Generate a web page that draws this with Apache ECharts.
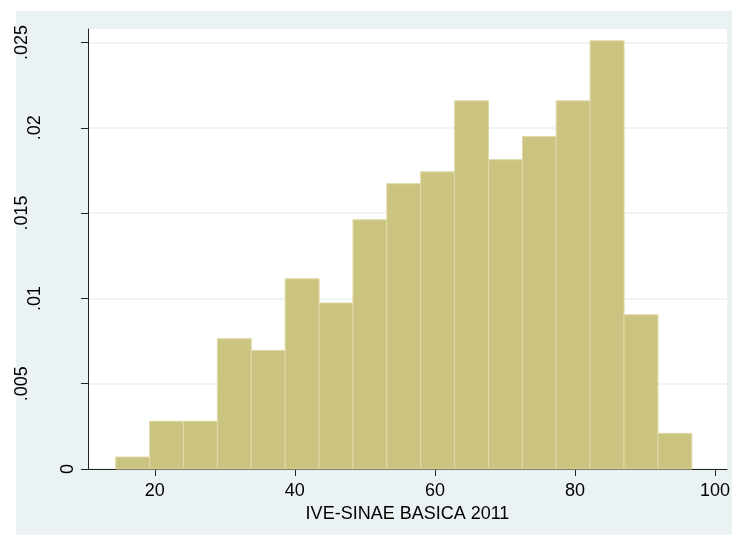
<!DOCTYPE html>
<html>
<head>
<meta charset="utf-8">
<script src="https://cdn.jsdelivr.net/npm/echarts@6/dist/echarts.min.js"></script>
<style>
  html, body { margin: 0; padding: 0; background: #fff; }
  #chart { width: 732px; height: 535px; }
</style>
</head>
<body>
<div id="chart"></div>
<script>
// bin edges of the histogram (17 bins)
var binEdges = [14.43, 19.27, 24.11, 28.94, 33.78, 38.62, 43.46, 48.30, 53.13,
  57.97, 62.81, 67.65, 72.49, 77.32, 82.16, 87.00, 91.84, 96.68];
// density of each bin
var densities = [0.0007, 0.0028, 0.0028, 0.00764, 0.00695, 0.01115, 0.00973, 0.01461,
  0.01672, 0.01742, 0.02158, 0.01813, 0.01949, 0.02158, 0.0251, 0.00904, 0.00209];
var xTicks = [20, 40, 60, 80, 100];
var yTicks = [0, 0.005, 0.01, 0.015, 0.02, 0.025];
var yTickLabels = ['0', '.005', '.01', '.015', '.02', '.025'];
var xTitle = 'IVE-SINAE BASICA 2011';

var font = 'Liberation Sans, Arial, sans-serif';

var bins = densities.map(function (d, i) {
  return [binEdges[i], binEdges[i + 1], d];
});

var ec = echarts.init(document.getElementById('chart'));
ec.setOption({
  backgroundColor: '#fff',
  animation: false,
  // light panel behind the plot, like Stata's graph region
  graphic: [{
    type: 'rect',
    z: -100,
    silent: true,
    shape: { x: 16, y: 11, width: 716, height: 524 },
    style: { fill: '#eaf2f3' }
  }],
  grid: {
    left: 88,
    top: 29,
    right: 5,
    bottom: 66,
    outerBoundsMode: 'none',
    containLabel: false,
    show: true,
    backgroundColor: '#fff',
    borderWidth: 0
  },
  xAxis: {
    type: 'value',
    min: 10.47,
    max: 101.7,
    name: xTitle,
    nameLocation: 'middle',
    nameGap: 29,
    nameTextStyle: { color: '#000', fontSize: 18, fontFamily: font },
    axisLine: { show: true, onZero: false, lineStyle: { color: '#222', width: 1 } },
    axisTick: { show: true, length: 7, customValues: xTicks, lineStyle: { color: '#222' } },
    axisLabel: { customValues: xTicks, margin: 13, color: '#000', fontSize: 18, fontFamily: font },
    splitLine: { show: false }
  },
  yAxis: {
    type: 'value',
    min: 0,
    max: 0.02579,
    axisLine: { show: true, lineStyle: { color: '#222', width: 1 } },
    axisTick: { show: true, length: 7, customValues: yTicks, lineStyle: { color: '#222' } },
    axisLabel: {
      customValues: yTicks,
      rotate: 90,
      margin: 11,
      color: '#000',
      fontSize: 18,
      fontFamily: font,
      formatter: function (v) {
        var i = yTicks.findIndex(function (t) { return Math.abs(t - v) < 1e-9; });
        var s = i >= 0 ? yTickLabels[i] : '';
        return '{n' + s.length + '|' + s + '}';
      },
      rich: {
        n1: { fontSize: 18, fontFamily: font, color: '#000', padding: [0, 0, 0, 0] },
        n3: { fontSize: 18, fontFamily: font, color: '#000', padding: [0, 0, 33, 0] },
        n4: { fontSize: 18, fontFamily: font, color: '#000', padding: [0, 0, 46, 0] }
      }
    },
    splitLine: { show: true, lineStyle: { color: '#eaf2f3', width: 1.5 } }
  },
  series: [{
    type: 'custom',
    data: bins,
    encode: { x: [0, 1], y: 2 },
    renderItem: function (params, api) {
      var p0 = api.coord([api.value(0), api.value(2)]);
      var p1 = api.coord([api.value(1), 0]);
      return {
        type: 'rect',
        shape: { x: p0[0], y: p0[1], width: p1[0] - p0[0], height: p1[1] - p0[1] },
        style: { fill: '#cbc481', stroke: '#dfd9a6', lineWidth: 1 }
      };
    }
  }]
});
</script>
</body>
</html>
